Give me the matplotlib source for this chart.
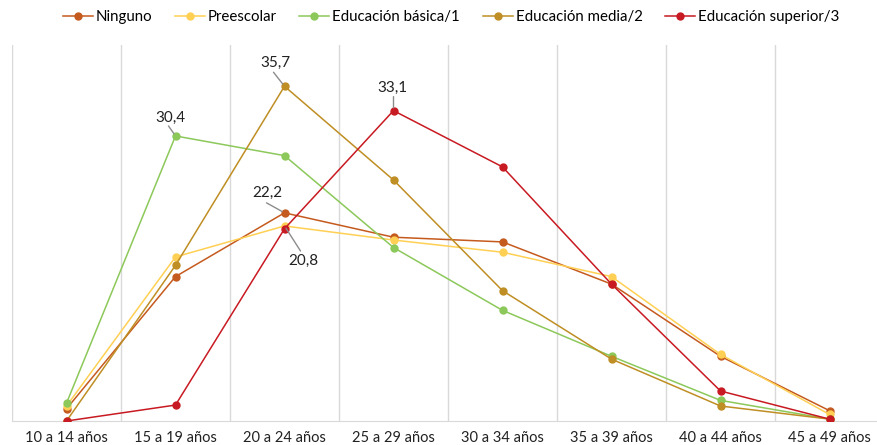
import matplotlib.pyplot as plt
import numpy as np

plt.rcParams['font.family'] = ['Lato', 'DejaVu Sans']

categorias = ['10 a 14 años', '15 a 19 años', '20 a 24 años', '25 a 29 años',
              '30 a 34 años', '35 a 39 años', '40 a 44 años', '45 a 49 años']

ninguno = [1.3, 15.4, 22.2, 19.6, 19.1, 14.6, 6.9, 1.1]
preescolar = [1.6, 17.5, 20.8, 19.3, 18.0, 15.4, 7.1, 0.7]
basica = [1.9, 30.4, 28.3, 18.5, 11.8, 6.9, 2.2, 0.2]
media = [0.0, 16.6, 35.7, 25.7, 13.9, 6.6, 1.6, 0.2]
superior = [0.0, 1.7, 20.5, 33.1, 27.1, 14.6, 3.2, 0.2]

series = [
    ('Ninguno', ninguno, '#C55A1E'),
    ('Preescolar', preescolar, '#FFD054'),
    ('Educación básica/1', basica, '#8CC85A'),
    ('Educación media/2', media, '#BF8E24'),
    ('Educación superior/3', superior, '#C81A22'),
]

fig = plt.figure(figsize=(8.78, 4.45), dpi=100)
ax = fig.add_axes([12 / 878, (445 - 421) / 445, 872 / 878, (421 - 45) / 445])

x = np.arange(len(categorias))
for nombre, vals, color in series:
    ax.plot(x, vals, '-o', color=color, lw=1.1, ms=5, label=nombre, zorder=3)

ax.set_xlim(-0.5, len(categorias) - 0.5)
ax.set_ylim(0, 40.1)
ax.set_xticks(x)
ax.set_xticklabels(categorias, fontsize=10.5, color='#222222')
ax.set_yticks([])
ax.tick_params(axis='x', length=0, pad=7)
for b in np.arange(-0.5, len(categorias), 1):
    ax.axvline(b, color='#d9d9d9', lw=1, zorder=0)
for s in ['top', 'right', 'left']:
    ax.spines[s].set_visible(False)
ax.spines['bottom'].set_color('#d9d9d9')

# etiquetas: (x, y, texto, desplazamiento texto px, extremo linea guia px)
etiquetas = [
    (1, basica[1], '30,4', (-5, 18), (-7, 10)),
    (2, media[2], '35,7', (-9, 23), (-11, 14)),
    (3, superior[3], '33,1', (-1, 23), (0, 14)),
    (2, ninguno[2], '22,2', (-17, 20), (-18, 10)),
    (2, preescolar[2], '20,8', (19, -35), (16, -25)),
]
for xi, yi, txt, off_t, off_l in etiquetas:
    ax.annotate('', xy=(xi, yi), xytext=off_l, textcoords='offset pixels',
                arrowprops=dict(arrowstyle='-', color='#8c8c8c', lw=1.0,
                                patchA=None, patchB=None,
                                shrinkA=0, shrinkB=2),
                zorder=4)
    ax.annotate(txt, xy=(xi, yi), xytext=off_t, textcoords='offset pixels',
                ha='center', va='center', fontsize=11, color='#222222',
                zorder=5)

fig.legend(loc='center', bbox_to_anchor=(451 / 878, 1 - 17 / 445), ncol=5,
           frameon=False, fontsize=10.8, handlelength=2.0, handletextpad=0.2,
           columnspacing=1.5)

fig.savefig('out.png', dpi=100)
